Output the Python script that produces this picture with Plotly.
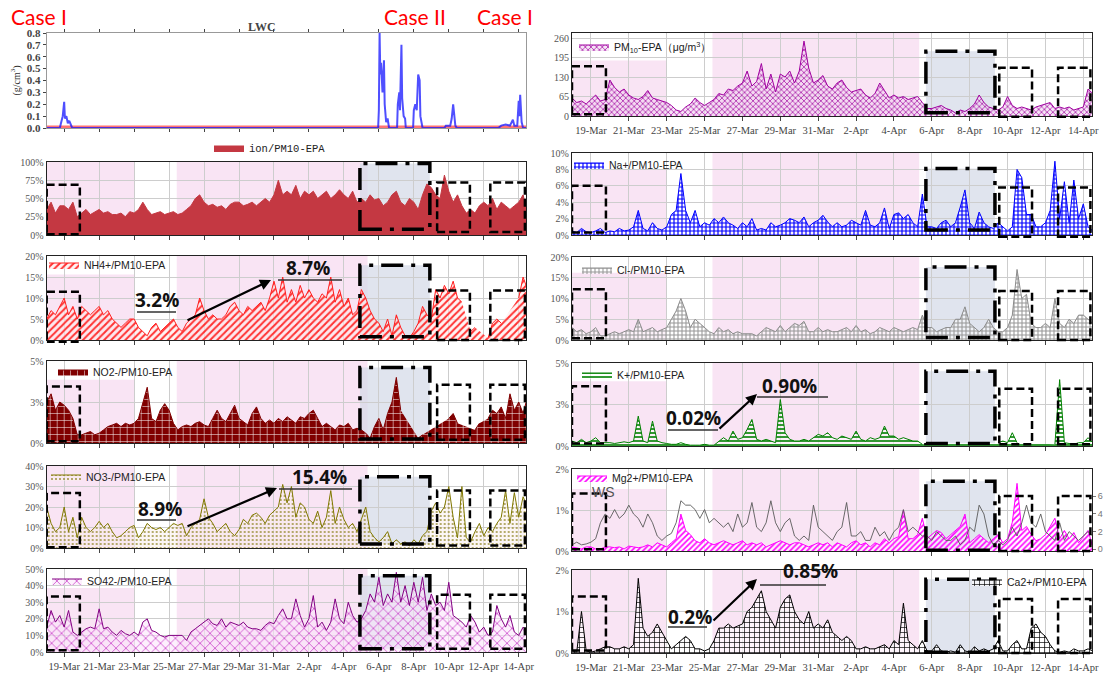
import pandas as pd
import plotly.graph_objects as go

W, H = 1107, 676
N = None

# ---------------- data (6-hourly readings, 18 Mar 00:00 -> 14 Apr 12:00) ----------------
times = pd.date_range("2019-03-18 00:00", "2019-04-14 12:00", freq="6h")

ION = [35, 45, 30, 40,  40, 35, 45, 25,  30, 35, 28, 32,  35, 30, 32, 28,
       28, 30, 25, 32,  30, 35, 45, 35,  28, 30, 32, 28,  30, 32, 28, 30,
       35, 40, 50, 55,  45, 40, 42, 38,  40, 35, 42, 45,  45, 40, 42, 45,
       40, 45, 50, 45,  55, 75, 55, 60,  55, 68, 50, 60,  55, 60, 50, 55,
       60, 50, 55, 62,  55, 50, 60, 45,  50, 45, 55, 48,  50, 40, 45, 55,
       60, 45, 40, 50,  45, 35, 55, 70,  65, 55, 50, 82,  60, 45, 55, 40,
       30, 35, 30, 40,  45, 40, 50, 35,  45, 40, 35, 40,  45, 55, 30]

NH4 = [5, 7, 6, 8,  10, 6, 8, 5,  8, 7, 6, 7,  8, 6, 7, 5,
       4, 3, 4, 5,  5, 3, 2, 1,  3, 4, 2, 3,  4, 5, 3, 2,
       4, 5, 6, 10,  7, 5, 6, 5,  5, 6, 8, 9,  7, 6, 8, 7,
       8, 9, 7, 10,  14, 10, 15, 9,  12, 9, 13, 10,  12, 10, 9, 11,
       10, 15, 9, 12,  8, 10, 6, 7,  12, 10, 7, 5,  4, 2, 5, 1,
       6, 3, 1, 0.5,  2, 4, 8, 6,  5, 12, 10, 13,  11, 14, 10, 9,
       N, 2, 3, N,  N, 0.5, 4, 5,  4, N, N, N,  10, 15, 12]

NO2 = [2.5, 3.0, 2.0, 2.5,  2.3, 2.0, 1.5, 0.5,  0.5, 0.6, 0.7, 0.5,  0.6, 0.8, 1.0, 1.1,
       1.2, 1.0, 1.2, 1.1,  1.2, 1.5, 2.5, 3.4,  1.5, 1.3, 2.0, 2.4,  2.0, 1.2, 0.8, 1.0,
       1.1, 1.0, 1.2, 1.3,  1.1, 1.0, 1.5, 2.0,  1.5, 1.3, 1.8, 2.3,  1.5, 1.3, 1.1, 1.8,
       2.2, 1.5, 1.2, 1.4,  1.2, 1.5, 1.3, 1.6,  1.4, 1.2, 1.6, 1.5,  1.8, 2.0, 1.5, 1.0,
       1.2, 1.0, 0.8, 1.1,  1.0, 1.2, 0.8, 0.9,  0.8, 0.6, 0.3, 1.0,  1.5, 0.8, 1.8, 2.5,
       4.0, 2.0, N, N,  N, 0.3, 0.5, N,  N, N, N, N,  1.5, 1.8, 1.2, N,
       N, N, 0.8, 1.2,  N, 1.5, 2.0, 1.8,  2.2, 1.5, 3.0, 2.0,  2.5, 1.8, 2.8]

NO3 = [20, 12, 8, 10,  20, 8, 15, 5,  15, 10, 8, 10,  13, 10, 12, 8,
       5, 6, 8, 10,  11, 5, 8, 12,  10, 9, 10, 8,  10, 12, 11, 12,
       6, 10, 12, 14,  24, 15, 12, 8,  10, 12, 8, 6,  9, 14, 12, 16,
       17, 15, 12, 16,  18, 20, 31, 22,  30, 15, 22, 20,  14, 12, 18, 10,
       15, 28, 12, 20,  14, 10, 12, 8,  14, 20, 8, 5,  3, 5, 8, 2,
       4, 2, 3, 1,  4, 2, 6, 8,  18, 22, 17, 20,  30, 15, 5, 30,
       5, 3, 8, 12,  6, 10, 8, 12,  15, 28, 12, 27,  15, 25, 20]

SO4 = [15, 25, 18, 22,  15, 25, 12, 10,  12, 14, 15, 14,  26, 14, 15, 12,
       10, 13, 11, 10,  12, 10, 18, 20,  13, 12, 10, 9,  10, 10, 10, 10,
       7, 12, 14, 16,  18, 20, 17, 16,  20, 15, 18, 17,  16, 18, 15, 14,
       14, 13, 16, 18,  17, 22, 26, 20,  20, 32, 22, 15,  20, 34, 15, 18,
       13, 18, 32, 20,  17, 30, 22, 18,  20, 25, 35, 30,  45, 28, 35, 30,
       48, 30, 40, 28,  42, 30, 45, 25,  35, 28, 30, 25,  42, 22, 20, 18,
       15, 22, 18, 12,  15, 10, 12, 28,  20, 15, 22, 12,  10, 15, 12]

PM10 = [60, 45, 50, 40,  55, 70, 50, 55,  120, 95, 80, 90,  70, 60, 55, 65,
        85, 60, 55, 50,  45, 35, 20, 15,  30, 40, 60, 45,  35, 45, 55, 75,
        70, 90, 85, 100,  110, 150, 100, 115,  175, 90, 140, 80,  140, 130, 150, 110,
        150, 250, 160, 110,  120, 135, 100, 90,  110, 120, 95, 80,  85, 90, 70, 60,
        75, 110, 85, 60,  70, 60, 65, 55,  60, 65, 45, 25,  25, 30, 35, 25,
        20, 10, 20, 15,  25, 40, 70, 45,  30, 25, 20, 30,  65, 35, 25, 30,
        25, 20, 30, 35,  40, 45, 25, 30,  25, 30, 20, 25,  30, 90, 75]

NA = [0.5, 0.3, 0.8, 0.4,  0.3, 0.5, 0.8, 0.3,  0.5, 0.4, 0.8, 0.5,  0.6, 1.0, 3.0, 0.8,
      0.5, 1.5, 0.8, 0.6,  1.0, 2.5, 3.0, 7.5,  3.0, 1.5, 3.0, 1.0,  1.5, 1.2, 2.0, 1.5,
      2.2, 1.5, 1.2, 0.8,  1.5, 1.0, 2.0, 0.6,  0.8, 0.6, 1.5, 1.0,  1.2, 1.5, 2.0, 1.8,
      1.5, 2.2, 1.0, 1.5,  1.8, 2.4, 1.6, 1.0,  1.5, 1.0, 1.2, 1.8,  1.5, 1.2, 3.0, 1.2,
      1.0, 1.5, 3.3, 0.8,  2.5, 2.7, 2.0, 2.5,  1.5, 1.0, 5.0, 1.0,  1.0, 0.8, 1.5, 1.8,
      1.0, 1.5, 3.4, 5.5,  1.5, 0.8, 2.8, 1.5,  1.0, 0.8, 1.5, 1.0,  0.5, 1.0, 8.0, 7.0,
      2.5, 2.5, 1.0, 1.0,  1.5, 3.0, 9.0, 2.0,  6.5, 1.5, 6.7, 2.0,  3.8, 1.0, 0.5]

CL = [3, 2, 2.5, 1.5,  2, 3, 1, 1,  1.5, 2, 1.5, 2,  2.5, 2, 5, 2,
      2.5, 3, 2, 2.5,  3, 5, 7, 10,  7, 3, 5, 4,  3, 2, 1.5, 3,
      2, 2.5, 1.5, 2,  1.5, 1.5, 1.5, 1,  2, 3, 2.5, 2,  3.5, 2, 3, 4,
      3.5, 4.5, 2, 2,  3, 2, 2.5, 2,  2, 2.5, 3, 2,  3.5, 2, 2.5, 1.5,
      2, 3, 2.5, 2,  3, 2.5, 2, 2.5,  3, 2.5, 6, 3,  3, 2, 2.5, 3,
      3, 5, 5, 8,  4, 3, 2, 3,  5, 3, 2, 2,  3, 6, 17, 10,
      11, 4, 3, 3,  4, 3, 10, 4,  3, 5, 4, 6,  6, 5, 4]

K = [0.3, 0.2, 0.4, 0.2,  0.3, 0.5, 0.2, 0.2,  0.2, 0.15, 0.2, 0.25,  0.2, 0.3, 1.8, 0.3,
     0.2, 1.5, 0.3, 0.2,  0.15, 0.1, 0.1, 0.2,  0.1, 0.05, 0.05, 0.05,  0.1, 0.05, 0.05, 0.3,
     0.5, 0.3, 0.9, 0.4,  0.5, 1.0, 1.6, 0.4,  0.3, 0.4, 0.3, 0.2,  2.8, 0.8, 0.4, 0.3,
     0.3, 0.4, 0.3, 0.5,  0.7, 0.6, 0.8, 0.5,  0.4, 0.6, 0.5, 0.4,  0.9, 0.4, 0.3, 0.5,
     0.4, 0.5, 1.2, 0.6,  0.6, 0.4, 0.5, 0.4,  0.3, 0.3, 0.1, N,  N, N, N, N,
     N, N, N, N,  N, N, N, N,  N, N, 0.2, 0.3,  0.2, 0.8, 0.2, N,
     N, N, N, N,  N, N, 0.1, 4.0,  0.2, 0.15, 0.1, 0.2,  0.2, 0.5, 0.2]

MG = [0.1, 0.08, 0.05, 0.1,  0.1, 0.05, 0.05, 0.1,  0.1, 0.08, 0.1, 0.05,  0.12, 0.1, 0.08, 0.1,
      0.15, 0.1, 0.2, 0.15,  0.1, 0.2, 0.3, 0.9,  0.5, 0.4, 0.25, 0.2,  0.3, 0.2, 0.15, 0.2,
      0.25, 0.2, 0.15, 0.2,  0.25, 0.15, 0.2, 0.15,  0.2, 0.1, 0.15, 0.2,  0.25, 0.2, 0.15, 0.2,
      0.2, 0.15, 0.1, 0.15,  0.2, 0.15, 0.2, 0.1,  0.2, 0.15, 0.1, 0.2,  0.25, 0.15, 0.2, 0.1,
      0.2, 0.15, 0.3, 0.2,  0.3, 0.35, 1.0, 0.3,  0.3, 0.4, 0.8, 0.3,  0.4, 0.5, 0.45, 0.3,
      0.4, 0.5, 0.6, 0.9,  0.2, 0.3, 0.4, 0.3,  0.2, 0.3, 0.4, 0.2,  0.3, 0.7, 1.65, 0.5,
      0.6, 0.4, 0.25, 0.3,  0.4, 0.6, 0.8, 0.3,  0.5, 0.3, 0.45, 0.2,  0.35, 0.5, 0.1]

WS = [0.5, 0.8, 0.5, 0.6,  0.8, 1.2, 3.0, 4.0,  3.5, 4.5, 3.5, 4.0,  5.0, 4.0, 3.5, 2.5,
      4.0, 3.0, 1.5, 1.0,  1.5, 1.8, 3.0, 5.5,  5.0, 5.0, 4.5, 3.5,  4.5, 3.0, 3.5, 3.0,
      2.5, 3.0, 2.0, 4.0,  2.5, 3.0, 5.3, 2.5,  2.0, 3.0, 5.5, 3.0,  2.0, 3.0, 3.5, 1.5,
      1.0, 1.5, 1.0, 5.0,  2.5, 2.0, 1.5, 1.0,  2.0, 2.5, 5.3, 1.5,  1.5, 2.0, 1.0, 1.0,
      2.5, 1.5, 2.0, 1.0,  2.0, 2.5, 4.5, 2.0,  2.5, 2.0, 1.5, 1.5,  1.0, 2.0, 1.5, 1.0,
      1.0, 1.5, 0.5, 1.0,  2.5, 2.0, 5.0, 4.0,  1.5, 0.5, 1.0, 0.5,  1.0, 2.5, 1.5, 3.0,
      5.0, 3.0, 2.5, 4.0,  2.0, 1.5, 1.0, 3.0,  1.0, 2.0, 1.5, 1.0,  1.5, 2.0, 1.5]

CA = [0.05, 0.02, 1.0, 0.05,  0.02, 0.05, 0.1, 0.15,  0.15, 0.1, 0.1, 0.15,  0.1, 0.2, 1.8, 0.6,
      0.4, 0.5, 0.7, 0.5,  0.3, 0.1, 0.2, 0.3,  0.4, 0.3, 0.1, 0.1,  0.05, 0.1, 0.3, 0.6,
      0.6, 0.7, 0.6, 0.65,  0.7, 1.0, 1.1, 1.3,  1.5, 1.0, 0.8, 0.6,  1.1, 1.3, 1.4, 1.0,
      0.8, 0.7, 1.0, 0.6,  0.7, 0.6, 0.8, 0.5,  0.4, 0.3, 0.4, 0.3,  0.1, 0.1, 0.15, 0.1,
      0.1, 0.15, 0.2, 0.1,  0.3, 0.2, 1.2, 0.3,  0.2, 0.1, 0.3, 0.05,  0.05, 0.2, 0.05, 0.02,
      0.05, 0.02, 0.2, 0.05,  0.02, 0.15, 0.05, 0.1,  0.05, 0.1, 0.3, 0.05,  0.05, 0.2, 0.3, 0.1,
      0.1, 0.6, 0.7, 0.5,  0.4, 0.2, 0.05, 0.02,  0.05, 0.02, 0.1, 0.05,  0.05, 0.1, 0.05]

LWC_TIME = ["2019-03-18 00:00", "2019-03-18 18:00", "2019-03-18 20:00", "2019-03-18 22:00",
            "2019-03-19 00:00", "2019-03-19 01:00", "2019-03-19 03:00", "2019-03-19 05:00",
            "2019-03-19 07:00", "2019-03-19 09:00", "2019-03-19 11:00", "2019-04-05 23:00",
            "2019-04-06 00:00", "2019-04-06 01:00", "2019-04-06 02:00", "2019-04-06 03:00",
            "2019-04-06 05:00", "2019-04-06 07:00", "2019-04-06 08:00", "2019-04-06 10:00",
            "2019-04-06 12:00", "2019-04-06 14:00", "2019-04-07 01:00", "2019-04-07 02:00",
            "2019-04-07 04:00", "2019-04-07 05:00", "2019-04-07 07:00", "2019-04-07 08:00",
            "2019-04-07 10:00", "2019-04-07 12:00", "2019-04-07 13:00", "2019-04-07 23:00",
            "2019-04-08 00:00", "2019-04-08 02:00", "2019-04-08 04:00", "2019-04-08 06:00",
            "2019-04-08 08:00", "2019-04-08 09:00", "2019-04-08 11:00", "2019-04-08 12:00",
            "2019-04-09 18:00", "2019-04-09 20:00", "2019-04-10 02:00", "2019-04-10 04:00",
            "2019-04-10 06:00", "2019-04-10 07:00", "2019-04-10 09:00", "2019-04-10 11:00",
            "2019-04-12 20:00", "2019-04-13 00:00", "2019-04-13 06:00", "2019-04-13 12:00",
            "2019-04-13 16:00", "2019-04-13 18:00", "2019-04-13 22:00", "2019-04-14 00:00",
            "2019-04-14 01:00", "2019-04-14 02:00", "2019-04-14 04:00", "2019-04-14 06:00",
            "2019-04-14 10:00"]
LWC_VAL = [0, 0, 0.05, 0.1,
           0.22, 0.08, 0.1, 0.04,
           0.06, 0.02, 0, 0,
           0.15, 0.8, 0.45, 0.55,
           0.3, 0.57, 0.2, 0.05,
           0.08, 0, 0, 0.2,
           0.3, 0.15, 0.7, 0.25,
           0.1, 0.08, 0, 0,
           0.15, 0.2, 0.15, 0.45,
           0.4, 0.1, 0.02, 0,
           0, 0.02, 0.02, 0.08,
           0.2, 0.12, 0.02, 0,
           0, 0.02, 0.03, 0.02,
           0.07, 0.02, 0.02, 0.23,
           0.1, 0.28, 0.05, 0,
           0]
LWC_BASE = [0.01, 0.01]
LWC_BASE_TIME = ["2019-03-18 00:00", "2019-04-14 10:00"]

# ---------------- layout helpers ----------------
def sfx(n):
    return "" if n == 1 else str(n)

LEFT_X = [46.7 / W, 526 / W]
RIGHT_X = [572 / W, 1092 / W]
LEFT_RANGE = ["2019-03-18 00:00", "2019-04-14 10:00"]
RIGHT_RANGE = ["2019-03-18 00:00", "2019-04-14 11:00"]

REG = {
    "L": dict(pink1=("2019-03-18 00:00", "2019-03-23 00:00"),
              pink2=("2019-03-25 10:30", "2019-04-05 08:30"),
              gray=("2019-04-04 22:00", "2019-04-08 22:00"),
              box1=("2019-03-18 00:00", "2019-03-19 21:30"),
              box2=("2019-04-09 08:00", "2019-04-11 05:00"),
              box3=("2019-04-12 09:00", "2019-04-14 08:30")),
    "R": dict(pink1=("2019-03-18 00:00", "2019-03-23 00:00"),
              pink2=("2019-03-25 10:00", "2019-04-05 08:00"),
              gray=("2019-04-05 16:30", "2019-04-09 08:00"),
              box1=("2019-03-18 00:00", "2019-03-19 19:00"),
              box2=("2019-04-09 13:30", "2019-04-11 07:00"),
              box3=("2019-04-12 16:00", "2019-04-14 09:00")),
}

P5 = ([0, 2.5, 5], ["0%", "3%", "5%"])

def pct(vals):
    return (vals, [f"{v}%" for v in vals])

PANELS = [
    dict(n=1, col="L", top=33, bot=128, rng=[0, 0.8], ticks=(None, None), xlab=False),
    dict(n=2, col="L", top=162, bot=235, rng=[0, 100], ticks=pct([0, 25, 50, 75, 100]), xlab=False,
         pink1=1.0, c2=(0.98, 0.08), b1=(0.69, 0.01), b23=(0.72, 0.04)),
    dict(n=3, col="L", top=256, bot=340, rng=[0, 20], ticks=pct([0, 5, 10, 15, 20]), xlab=False,
         pink1=0.78, c2=(0.89, 0.04), b1=(0.575, -0.02), b23=(0.59, 0.0)),
    dict(n=4, col="L", top=361, bot=443, rng=[0, 5], ticks=P5, xlab=False,
         pink1=0.77, c2=(0.92, 0.05), b1=(0.69, 0.02), b23=(0.71, 0.04)),
    dict(n=5, col="L", top=466, bot=548, rng=[0, 40], ticks=pct([0, 10, 20, 30, 40]), xlab=False,
         pink1=1.0, c2=(0.87, 0.05), b1=(0.67, 0.01), b23=(0.70, 0.03)),
    dict(n=6, col="L", top=569, bot=652, rng=[0, 50], ticks=pct([0, 10, 20, 30, 40, 50]), xlab=True,
         pink1=0.77, c2=(0.92, 0.04), b1=(0.67, 0.02), b23=(0.69, 0.04)),
    dict(n=7, col="R", top=33, bot=116, rng=[0, 277], ticks=([0, 65, 130, 195, 260], ["0", "65", "130", "195", "260"]), xlab=True,
         pink1=0.67, c2=(0.78, 0.04), b1=(0.60, 0.02), b23=(0.58, -0.01)),
    dict(n=8, col="R", top=153, bot=235, rng=[0, 10], ticks=pct([0, 2, 4, 6, 8, 10]), xlab=False,
         pink1=0.80, c2=(0.81, 0.06), b1=(0.60, 0.03), b23=(0.58, -0.02)),
    dict(n=9, col="R", top=257, bot=340, rng=[0, 20], ticks=pct([0, 5, 10, 15, 20]), xlab=False,
         pink1=0.81, c2=(0.88, 0.03), b1=(0.61, 0.02), b23=(0.59, 0.0)),
    dict(n=10, col="R", top=363, bot=446, rng=[0, 5], ticks=P5, xlab=False,
         pink1=0.78, c2=(0.90, 0.03), b1=(0.72, 0.03), b23=(0.69, 0.02)),
    dict(n=11, col="R", top=469, bot=551, rng=[0, 2], ticks=pct([0, 1, 2]), xlab=False,
         pink1=0.755, c2=(0.85, 0.01), b1=(0.70, 0.02), b23=(0.67, 0.0)),
    dict(n=12, col="R", top=570, bot=653, rng=[0, 2], ticks=pct([0, 1, 2]), xlab=True,
         pink1=1.0, c2=(0.89, 0.01), b1=(0.68, 0.03), b23=(0.65, 0.0)),
]

PINK = "rgb(249,228,244)"
GRAY = "rgba(212,217,231,0.72)"
GRID = "rgb(205,205,205)"

layout = dict(width=W, height=H, margin=dict(l=0, r=0, t=0, b=0, autoexpand=False),
              paper_bgcolor="white", plot_bgcolor="white")
shapes = []
annotations = []

for p in PANELS:
    n, s = p["n"], sfx(p["n"])
    lwc = n == 1
    layout[f"xaxis{s}"] = dict(
        domain=LEFT_X if p["col"] == "L" else RIGHT_X, anchor=f"y{s}", type="date",
        range=LEFT_RANGE if p["col"] == "L" else RIGHT_RANGE, automargin=False,
        tick0="2019-03-19", dtick=2 * 86400000, tickformat="%-d-%b", tickangle=0,
        showticklabels=p["xlab"], ticks="outside", ticklen=3 if lwc else 4, tickcolor="#444",
        showgrid=not lwc, gridcolor=GRID, gridwidth=1,
        showline=True, linecolor="#999" if lwc else "#222", linewidth=1.2,
        mirror="ticks" if lwc else True, zeroline=False,
        tickfont=dict(family="Liberation Serif", size=10.5, color="#444"))
    ycfg = dict(domain=[1 - p["bot"] / H, 1 - p["top"] / H], anchor=f"x{s}", range=p["rng"],
                automargin=False,
                showline=True, linecolor="#999" if lwc else "#222", linewidth=1.2, mirror=True,
                zeroline=False, showgrid=not lwc, gridcolor=GRID,
                tickfont=dict(family="Liberation Serif", size=10, color="#555"))
    if lwc:
        ycfg.update(dtick=0.1, tickformat=".1f", ticks="outside", ticklen=3, tickcolor="#444",
                    tickfont=dict(family="Liberation Serif", size=11, color="#444", weight="bold"),
                    title=dict(text="(g/cm<sup>3</sup>)", standoff=4,
                               font=dict(family="Liberation Serif", size=10, color="#333")))
    else:
        ycfg.update(tickvals=p["ticks"][0], ticktext=p["ticks"][1], ticks="")
    layout[f"yaxis{s}"] = ycfg

    if lwc:
        continue
    R = REG[p["col"]]
    xr, yr = f"x{s}", f"y{s} domain"
    shapes.append(dict(type="rect", xref=xr, yref=yr, x0=R["pink1"][0], x1=R["pink1"][1],
                       y0=0, y1=p["pink1"], fillcolor=PINK, line_width=0, layer="below"))
    shapes.append(dict(type="rect", xref=xr, yref=yr, x0=R["pink2"][0], x1=R["pink2"][1],
                       y0=0, y1=1, fillcolor=PINK, line_width=0, layer="below"))
    shapes.append(dict(type="rect", xref=xr, yref=yr, x0=R["gray"][0], x1=R["gray"][1],
                       y0=p["c2"][1], y1=p["c2"][0], fillcolor=GRAY, line_width=0, layer="below"))
    shapes.append(dict(type="rect", xref=xr, yref=yr, x0=R["gray"][0], x1=R["gray"][1],
                       y0=p["c2"][1], y1=p["c2"][0], fillcolor="rgba(0,0,0,0)", layer="above",
                       line=dict(color="black", width=3.5, dash="22px,8px,4px,8px")))
    for key, (t, b) in (("box1", p["b1"]), ("box2", p["b23"]), ("box3", p["b23"])):
        shapes.append(dict(type="rect", xref=xr, yref=yr, x0=R[key][0], x1=R[key][1],
                           y0=b, y1=t, fillcolor="rgba(0,0,0,0)", layer="above",
                           line=dict(color="black", width=2.5, dash="8px,4px")))

# secondary axis for wind speed on Mg panel
layout["yaxis13"] = dict(domain=layout["yaxis11"]["domain"], anchor="x11", overlaying="y11",
                         side="right", range=[-0.2, 9.1], tickvals=[0, 2, 4, 6], ticks="outside",
                         ticklen=3, tickcolor="#777", showgrid=False, zeroline=False, showline=False,
                         automargin=False,
                         tickfont=dict(family="Liberation Sans", size=9, color="#777"))

fig = go.Figure()

# LWC
fig.add_trace(go.Scatter(x=LWC_BASE_TIME, y=LWC_BASE, xaxis="x", yaxis="y", mode="lines",
                         line=dict(color="rgba(255,90,90,0.85)", width=2.5), showlegend=False))
fig.add_trace(go.Scatter(x=LWC_TIME, y=LWC_VAL, xaxis="x", yaxis="y", mode="lines",
                         line=dict(color="rgba(20,20,255,0.75)", width=2), showlegend=False))

def pattern(shape, fg, bg, size, sol):
    return dict(shape=shape, fgcolor=fg, bgcolor=bg, size=size, solidity=sol, fillmode="replace")

SERIES = [
    # n, y, name, line color, fillpattern or solid color, legend key
    (2, ION, "ion/PM10-EPA", "rgb(196,56,66)", "rgb(196,56,66)", "legend"),
    (3, NH4, "NH4+/PM10-EPA", "rgb(255,30,30)", pattern("/", "rgb(255,50,50)", "rgba(255,235,235,0.6)", 5, 0.4), "legend2"),
    (4, NO2, "NO2-/PM10-EPA", "rgb(128,0,0)", pattern("+", "rgba(255,255,255,0.95)", "rgb(128,0,0)", 7, 0.15), "legend3"),
    (5, NO3, "NO3-/PM10-EPA", "rgb(128,120,0)", pattern(".", "rgba(140,130,30,0.8)", "rgba(250,238,235,0.5)", 4, 0.22), "legend4"),
    (6, SO4, "SO42-/PM10-EPA", "rgb(130,0,130)", pattern("x", "rgb(200,60,200)", "rgba(250,228,250,0.55)", 7, 0.2), "legend5"),
    (7, PM10, "PM<sub>10</sub>-EPA\uff08\u03bcg/m<sup>3</sup>\uff09", "rgb(160,0,160)", pattern("x", "rgb(170,30,170)", "rgba(240,210,240,0.6)", 4, 0.35), "legend6"),
    (8, NA, "Na+/PM10-EPA", "rgb(0,0,255)", pattern("+", "rgb(0,0,255)", "rgba(255,255,255,0.5)", 4, 0.5), "legend7"),
    (9, CL, "Cl-/PM10-EPA", "rgb(140,140,140)", pattern("+", "rgb(150,150,150)", "rgba(255,255,255,0.5)", 4, 0.45), "legend8"),
    (10, K, "K+/PM10-EPA", "rgb(0,128,0)", pattern("-", "rgb(0,128,0)", "rgba(255,255,255,0.5)", 4, 0.4), "legend9"),
    (11, MG, "Mg2+/PM10-EPA", "rgb(255,0,255)", pattern("/", "rgb(255,0,255)", "rgba(255,255,255,0.5)", 4, 0.4), "legend10"),
    (12, CA, "Ca2+/PM10-EPA", "rgb(0,0,0)", pattern("+", "rgb(0,0,0)", "rgba(255,255,255,0.6)", 5, 0.25), "legend11"),
]

for n, y, name, lc, fp, lg in SERIES:
    s = sfx(n)
    kw = dict(fillcolor=fp) if isinstance(fp, str) else dict(fillpattern=fp)
    fig.add_trace(go.Scatter(x=times, y=y, xaxis=f"x{s}", yaxis=f"y{s}", mode="lines", name=name,
                             line=dict(color=lc, width=1), fill="tozeroy", legend=lg, **kw))

fig.add_trace(go.Scatter(x=times, y=WS, xaxis="x11", yaxis="y13", mode="lines", name="WS",
                         line=dict(color="rgba(90,90,90,0.9)", width=1), showlegend=False))

# legends (anchor px, centre-y px, x anchor)
LEG_POS = {"legend": (209, 148, "left"), "legend2": (44, 265, "left"), "legend3": (53, 372, "left"),
           "legend4": (46, 477, "left"), "legend5": (47, 581, "left"), "legend6": (574, 47, "left"),
           "legend7": (569, 165, "left"), "legend8": (577, 270, "left"), "legend9": (577, 375, "left"),
           "legend10": (572, 478, "left"), "legend11": (1092, 582, "right")}
for key, (lx, ly, xa) in LEG_POS.items():
    fam = "Liberation Mono" if key == "legend" else "Liberation Sans"
    layout[key] = dict(x=lx / W, y=1 - ly / H, xanchor=xa, yanchor="middle",
                       bgcolor="rgba(0,0,0,0)", borderwidth=0, itemwidth=30,
                       font=dict(family=fam, size=10.5, color="#222"))

# text annotations
def txt(text, cx, cy, size, color="#111", family="Open Sans", bold=True):
    annotations.append(dict(xref="paper", yref="paper", x=cx / W, y=1 - cy / H, showarrow=False,
                            xanchor="center", yanchor="middle",
                            text=f"<b>{text}</b>" if bold else text,
                            font=dict(family=family, size=size, color=color)))

def uline(x0, x1, yy):
    shapes.append(dict(type="line", xref="paper", yref="paper", x0=x0 / W, x1=x1 / W,
                       y0=1 - yy / H, y1=1 - yy / H, line=dict(color="#333", width=1.5)))

def arrow(x0, y0, x1, y1):
    annotations.append(dict(xref="paper", yref="paper", x=x1 / W, y=1 - y1 / H, ax=x0 - x1, ay=y0 - y1,
                            axref="pixel", ayref="pixel", showarrow=True, arrowhead=2, arrowsize=1,
                            arrowwidth=2.2, arrowcolor="black", text=""))

for label, cx in (("Case I", 39), ("Case II", 415), ("Case I", 505)):
    txt(label, cx, 17, 21, color="rgb(255,0,0)", family="Lato", bold=False)
txt("LWC", 262, 27, 12, color="#444", family="Liberation Serif")

txt("3.2%", 157, 300, 19); uline(137, 176, 312); arrow(186, 321, 271, 280)
txt("8.7%", 308, 268, 19); uline(278, 342, 280)
txt("8.9%", 160, 509, 19); uline(137, 176, 520); arrow(186, 527, 277, 488)
txt("15.4%", 319, 477, 19); uline(279, 352, 489)
txt("0.02%", 693, 418, 19); uline(668, 718, 430); arrow(718, 430, 757, 394)
txt("0.90%", 789, 386, 19); uline(757, 828, 397)
txt("0.2%", 690, 617, 19); uline(668, 707, 627); arrow(712, 622, 757, 579)
txt("0.85%", 810, 571, 19); uline(760, 826, 585)
txt("WS", 603, 492, 14, color="#555", family="Liberation Sans", bold=False)

layout["shapes"] = shapes
layout["annotations"] = annotations
fig.update_layout(**layout)
fig.write_html("out.html")
